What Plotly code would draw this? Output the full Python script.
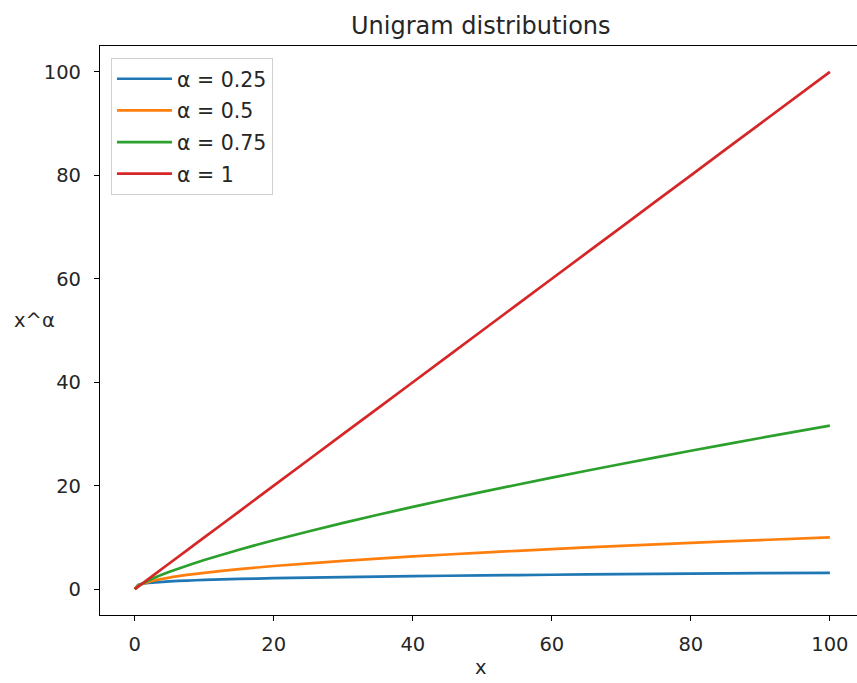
import plotly.graph_objects as go

# x positions at which the curves were read
x_vals = [0, 0.5, 1, 2, 3, 5, 7.5, 10, 15, 20, 30, 40, 50, 60, 70, 80, 90, 100]

y_a025 = [0, 0.84, 1.00, 1.19, 1.32, 1.50, 1.65, 1.78, 1.97, 2.11, 2.34, 2.51, 2.66, 2.78, 2.89, 2.99, 3.08, 3.16]
y_a050 = [0, 0.71, 1.00, 1.41, 1.73, 2.24, 2.74, 3.16, 3.87, 4.47, 5.48, 6.32, 7.07, 7.75, 8.37, 8.94, 9.49, 10.0]
y_a075 = [0, 0.59, 1.00, 1.68, 2.28, 3.34, 4.53, 5.62, 7.62, 9.46, 12.82, 15.91, 18.80, 21.56, 24.20, 26.75, 29.22, 31.62]
y_a100 = [0, 0.5, 1, 2, 3, 5, 7.5, 10, 15, 20, 30, 40, 50, 60, 70, 80, 90, 100]

series_names = ["α = 0.25", "α = 0.5", "α = 0.75", "α = 1"]
series_colors = ["#1f77b4", "#ff7f0e", "#2ca02c", "#d62728"]
x_ticks = [0, 20, 40, 60, 80, 100]
y_ticks = [0, 20, 40, 60, 80, 100]

font_family = "DejaVu Sans"
txt = "#262626"

fig = go.Figure()
for i, (name, color, ys) in enumerate(zip(series_names, series_colors, [y_a025, y_a050, y_a075, y_a100])):
    fig.add_trace(go.Scatter(x=x_vals, y=ys, mode="lines", name=name, legendgroup=f"g{i}",
                             line=dict(color=color, width=2.7, shape="spline", smoothing=0.6)))

axis_common = dict(showgrid=False, zeroline=False, showline=True, linecolor="black",
                   linewidth=1.2, ticks="outside", ticklen=5, tickwidth=1.2,
                   tickcolor="black", tickfont=dict(family=font_family, size=19.5, color=txt))

# the reference image is cropped on the right: the right spine (x=105) lies past the edge
fig.update_layout(
    width=857, height=683,
    margin=dict(l=100, r=0, t=46, b=68),
    paper_bgcolor="white", plot_bgcolor="white",
    font=dict(family=font_family, size=19.5, color=txt),
    xaxis=dict(range=[-5, 103.9], tickvals=x_ticks, ticklabelstandoff=6, mirror=True, **axis_common),
    yaxis=dict(range=[-5, 105], tickvals=y_ticks, ticklabelstandoff=9, mirror=False, **axis_common),
    legend=dict(x=0.0145, y=0.979, xanchor="left", yanchor="top",
                bgcolor="rgba(255,255,255,0.8)", bordercolor="#d0d0d0", borderwidth=1,
                font=dict(family=font_family, size=20.5, color=txt),
                tracegroupgap=2, itemwidth=55),
    showlegend=True,
)

fig.add_annotation(text="Unigram distributions", xref="paper", yref="paper", x=0.503, y=1.035,
                   xanchor="center", yanchor="middle", showarrow=False,
                   font=dict(family=font_family, size=24, color=txt))
fig.add_annotation(text="x^α", xref="paper", yref="paper", x=-0.0568, y=0.518, xanchor="right",
                   yanchor="middle", showarrow=False,
                   font=dict(family=font_family, size=19.5, color=txt))
fig.add_annotation(text="x", xref="paper", yref="paper", x=0.503, y=-0.093, xanchor="center",
                   yanchor="middle", showarrow=False,
                   font=dict(family=font_family, size=19.5, color=txt))

fig.write_html("out.html", config={"displayModeBar": False},
               post_script="document.body.style.margin='0';document.body.style.overflow='hidden';")
